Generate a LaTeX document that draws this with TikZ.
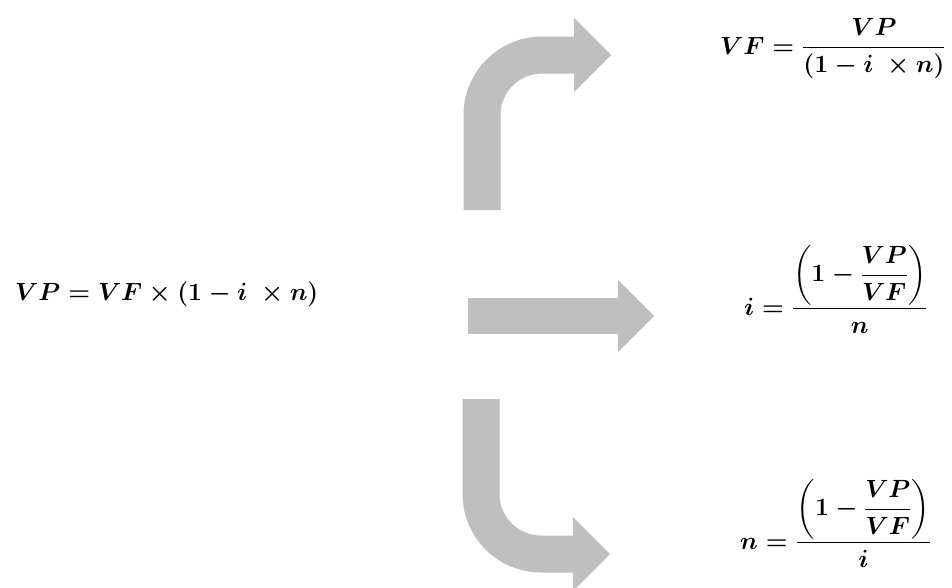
\documentclass[tikz,border=0pt]{standalone}
\usepackage{amsmath}
\usepackage{amssymb}
\usepackage{color}
\definecolor{arrowgray}{RGB}{191,191,191}
\newcommand{\bentarrow}{\draw[line width=37pt, arrowgray, rounded corners=60pt] (0,155) -- (0,0) -- (92.5,0);
					\fill[arrowgray] (92,-37) -- (129,0) -- (92,37) -- cycle;}
\tikzset{formula/.style={anchor=base west, inner sep=0pt, font=\Huge\boldmath}}
\usetikzlibrary{positioning}

\begin{document}
\begin{tikzpicture}[x=1pt, y=-1pt]
				\useasboundingbox (0,0) rectangle (952,587);

				\node[formula] (eqVP) at (15,300) {$VP = VF \times (1 - i\ \times n)$};
				\node[formula] (eqVF) at (720,54) {$VF = \dfrac{VP}{(1 - i\ \times n)}$};
				\node[formula] (eqi) at (744,315) {$i = \dfrac{\left(1 - \dfrac{VP}{VF}\right)}{n}$};
				\node[formula] (eqn) at (740,549) {$n = \dfrac{\left(1 - \dfrac{VP}{VF}\right)}{i}$};

					\begin{scope}[shift = {(482,55)}]
						\bentarrow
					\end{scope}

					\begin{scope}[shift = {(468,316)}]
						\draw[line width=36pt, arrowgray] (0,0) -- (150.5,0);
						\fill[arrowgray] (150,-36) -- (186,0) -- (150,36) -- cycle;
					\end{scope}

					\begin{scope}[shift = {(481,554)}, yscale = -1]
						\bentarrow
					\end{scope}

\end{tikzpicture}
\end{document}
